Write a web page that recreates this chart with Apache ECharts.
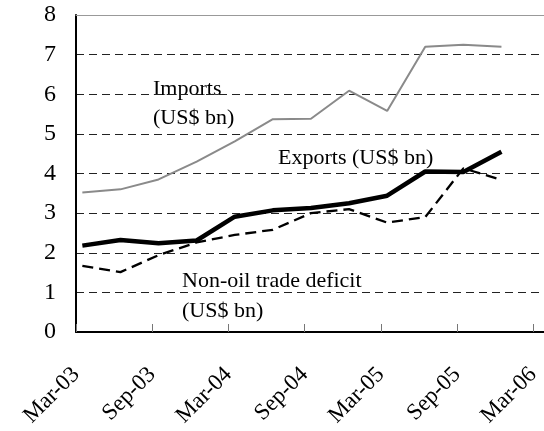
<!DOCTYPE html>
<html>
<head>
<meta charset="utf-8">
<script src="https://cdn.jsdelivr.net/npm/echarts@6/dist/echarts.min.js"></script>
<style>
  html, body { margin: 0; padding: 0; background: #fff; }
  #chart { width: 544px; height: 431px; }
</style>
</head>
<body>
<div id="chart"></div>
<script>
// 数据: 月份 (距 Mar-03 的月数, 季度数据在月中)
var months = [0.5, 3.5, 6.5, 9.5, 12.5, 15.5, 18.5, 21.5, 24.5, 27.5, 30.5, 33.5];
var imports = [3.52, 3.60, 3.85, 4.30, 4.81, 5.37, 5.38, 6.09, 5.58, 7.20, 7.25, 7.20];
var exports = [2.18, 2.32, 2.24, 2.31, 2.91, 3.07, 3.13, 3.25, 3.44, 4.05, 4.04, 4.55];
var deficit = [1.67, 1.51, 1.94, 2.26, 2.45, 2.58, 3.00, 3.10, 2.76, 2.90, 4.13, 3.84];
var tickLabels = ['Mar-03', 'Sep-03', 'Mar-04', 'Sep-04', 'Mar-05', 'Sep-05', 'Mar-06'];

function pairs(ys) {
    return ys.map(function (y, i) { return [months[i], y]; });
}

var font = 'Liberation Serif, Times New Roman, serif';
var chart = echarts.init(document.getElementById('chart'));

var option = {
    animation: false,
    grid: { left: 76, right: 0, top: 15, bottom: 99 },
    xAxis: [{
        type: 'value',
        min: 0,
        max: 36.85,
        interval: 6,
        axisLine: { lineStyle: { color: '#000', width: 2 } },
        axisTick: { inside: true, length: 8, lineStyle: { color: '#777', width: 1 } },
        splitLine: { show: false },
        axisLabel: {
            rotate: 45,
            margin: 39,
            showMaxLabel: false,
            color: '#000',
            fontFamily: font,
            fontSize: 23,
            formatter: function (v) { return tickLabels[Math.round(v / 6)] || ''; }
        }
    }, {
        // 顶部边线
        type: 'value',
        position: 'top',
        min: 0,
        max: 36.85,
        axisLine: { lineStyle: { color: '#999', width: 1 } },
        axisTick: { show: false },
        axisLabel: { show: false },
        splitLine: { show: false }
    }],
    yAxis: {
        type: 'value',
        min: 0,
        max: 8,
        interval: 1,
        axisLine: { show: true, lineStyle: { color: '#000', width: 2 } },
        axisTick: { show: false },
        axisLabel: { margin: 20, color: '#000', fontFamily: font, fontSize: 24 },
        splitLine: { lineStyle: { color: '#222', width: 1, type: [8, 5] } }
    },
    graphic: [
        { type: 'text', left: 153, top: 75, style: { text: 'Imports\n(US$ bn)', font: '22px ' + font, fill: '#000', lineHeight: 29 } },
        { type: 'text', left: 278, top: 147, style: { text: 'Exports (US$ bn)', font: '22px ' + font, fill: '#000' } },
        { type: 'text', left: 182, top: 266, style: { text: 'Non-oil trade deficit\n(US$ bn)', font: '22px ' + font, fill: '#000', lineHeight: 30 } }
    ],
    series: [{
        name: 'Imports',
        type: 'line',
        data: pairs(imports),
        symbol: 'none',
        lineStyle: { color: '#8a8a8a', width: 2 }
    }, {
        name: 'Non-oil trade deficit',
        type: 'line',
        data: pairs(deficit),
        symbol: 'none',
        lineStyle: { color: '#000', width: 2.3, type: [11, 6] }
    }, {
        name: 'Exports',
        type: 'line',
        data: pairs(exports),
        symbol: 'none',
        lineStyle: { color: '#000', width: 4.5 }
    }]
};

chart.setOption(option);
</script>
</body>
</html>
